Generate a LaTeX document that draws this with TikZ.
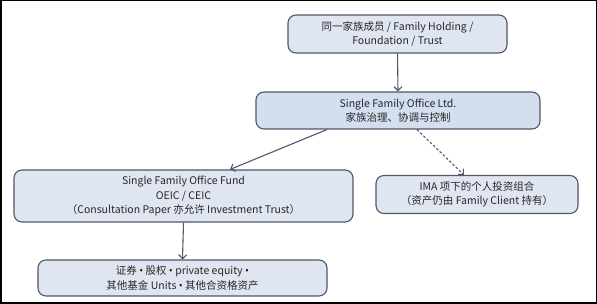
\documentclass[tikz,border=0pt]{standalone}
\usepackage{fontspec}
\setmainfont{Noto Sans CJK SC}
\newfontfamily\latinfont{Noto Sans}
\newcommand{\bul}{{\latinfont •}}
\usetikzlibrary{arrows.meta}
\definecolor{boxfill}{RGB}{224,230,241}
\definecolor{boxfilldark}{RGB}{211,222,239}
\definecolor{boxline}{RGB}{78,88,104}
\definecolor{arrowc}{RGB}{78,88,104}
\begin{document}
\begin{tikzpicture}[x=1pt,y=1pt,
  box/.style={draw=boxline, fill=boxfill, line width=1.1pt, rounded corners=8pt,
    align=center, inner sep=0pt, font=\fontsize{10.5}{14.5}\selectfont, text=black!85},
  conn/.style={draw=arrowc, line width=1.1pt, -{Straight Barb[length=4pt,width=8pt]}},
  dconn/.style={conn, dash pattern=on 2.5pt off 2pt}]
\useasboundingbox (0,0) rectangle (597,-304);
\draw[black, line width=1.5pt] (0.75,-0.75) rectangle (596.25,-303.25);
\node[box, minimum width=219pt, minimum height=38pt] (n1) at (397.5,-34) {同一家族成员 / Family Holding /\\Foundation / Trust};
\node[box, fill=boxfilldark, minimum width=284pt, minimum height=37pt] (n2) at (398,-110.5) {Single Family Office Ltd.\\家族治理、协调与控制};
\node[box, minimum width=339pt, minimum height=52pt] (n3) at (183.5,-196) {Single Family Office Fund\\OEIC / CEIC\\（Consultation Paper 亦允许 Investment Trust）};
\node[box, minimum width=202pt, minimum height=38pt] (n4) at (477,-194.5) {IMA 项下的个人投资组合\\（资产仍由 Family Client 持有）};
\node[box, minimum width=289pt, minimum height=36pt] (n5) at (182.5,-278) {证券 \bul{} 股权 \bul{} private equity \bul\\其他基金 Units \bul{} 其他合资格资产};
\draw[conn] (n1.south) -- (n2.north);
\draw[conn] ([xshift=-71pt]n2.south) -- ([xshift=46.5pt]n3.north);
\draw[dconn] ([xshift=19pt]n2.south) -- ([xshift=-13pt]n4.north);
\draw[conn] (n3.south) -- (n5.north);
\end{tikzpicture}
\end{document}
